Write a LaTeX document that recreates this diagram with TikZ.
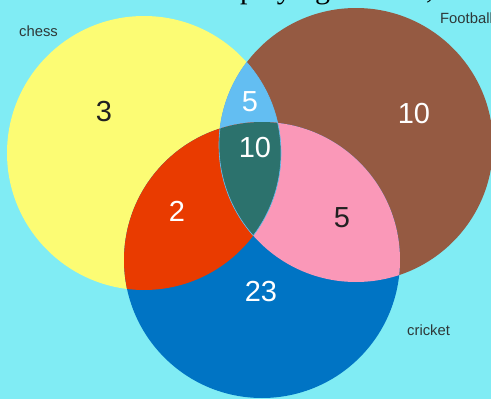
\documentclass[tikz,border=0pt]{standalone}
\usepackage{fontspec}
\setmainfont{Liberation Sans}
\newfontfamily\headserif{Liberation Serif}

\definecolor{skybg}{HTML}{80ECF4}
\definecolor{chessyellow}{HTML}{FCFC74}
\definecolor{footbrown}{HTML}{955A42}
\definecolor{cricketblue}{HTML}{0074C4}
\definecolor{lensblue}{HTML}{63BEF2}
\definecolor{chessred}{HTML}{E93B00}
\definecolor{footpink}{HTML}{FA98B8}
\definecolor{allteal}{HTML}{2C726D}
\definecolor{labelgray}{HTML}{2E3838}

% the three sets
\newcommand\chessdisc{(144,153) circle [radius=137pt]}
\newcommand\footdisc{(356,145) circle [radius=137pt]}
\newcommand\cricketdisc{(262,260) circle [radius=138pt]}

\begin{document}
\begin{tikzpicture}[x=1pt, y=-1pt,
    count/.style={font=\fontsize{29}{29}\selectfont, anchor=base, inner sep=0pt},
    setname/.style={font=\fontsize{14.8}{14.8}\selectfont, text=labelgray,
                    anchor=base west, inner sep=0pt},
    lensline/.style={draw=lensblue, line width=0.6pt}]

    \useasboundingbox (0,0) rectangle (491,399);
    \fill[skybg] (0,0) rectangle (491,399);

    % ============================================================
    % SINGLE SETS
    % ============================================================
    \fill[chessyellow] \chessdisc;
    \fill[footbrown] \footdisc;
    \fill[cricketblue] \cricketdisc;

    % ============================================================
    % PAIRWISE OVERLAPS
    % ============================================================
    \begin{scope}
        \clip \chessdisc;
        \fill[lensblue] \footdisc;
        \fill[chessred] \cricketdisc;
    \end{scope}
    \begin{scope}
        \clip \footdisc;
        \fill[footpink] \cricketdisc;
    \end{scope}

    % ============================================================
    % ALL THREE
    % ============================================================
    \begin{scope}
        \clip \chessdisc;
        \clip \footdisc;
        \fill[allteal] \cricketdisc;
    \end{scope}

    % thin rim of the chess/football lens
    \begin{scope}
        \clip \chessdisc;
        \draw[lensline] \footdisc;
    \end{scope}
    \begin{scope}
        \clip \footdisc;
        \draw[lensline] \chessdisc;
    \end{scope}

    % ============================================================
    % COUNTS
    % ============================================================
    \node[count, text=black!87] (nchess) at (104,121) {3};
    \node[count, text=white] (nchessfoot) at (250,111) {5};
    \node[count, text=white] (nfoot) at (414,123) {10};
    \node[count, text=white] (nall) at (255,157) {10};
    \node[count, text=white] (nchesscricket) at (177,221) {2};
    \node[count, text=black!87] (nfootcricket) at (342,227) {5};
    \node[count, text=white] (ncricket) at (261,301) {23};

    % ============================================================
    % SET NAMES
    % ============================================================
    \node[setname] (lchess) at (19,36) {chess};
    \node[setname] (lfoot) at (440,23) {Football};
    \node[setname] (lcricket) at (407,335) {cricket};

    % cut-off heading above the picture
    \node[font=\headserif\fontsize{30}{30}\selectfont, anchor=base west, inner sep=0pt]
        (heading) at (240,-1.5) {playing};
    \node[font=\headserif\fontsize{30}{30}\selectfont, anchor=base west, inner sep=0pt]
        (headcomma) at (426,-1.5) {,};

\end{tikzpicture}
\end{document}
